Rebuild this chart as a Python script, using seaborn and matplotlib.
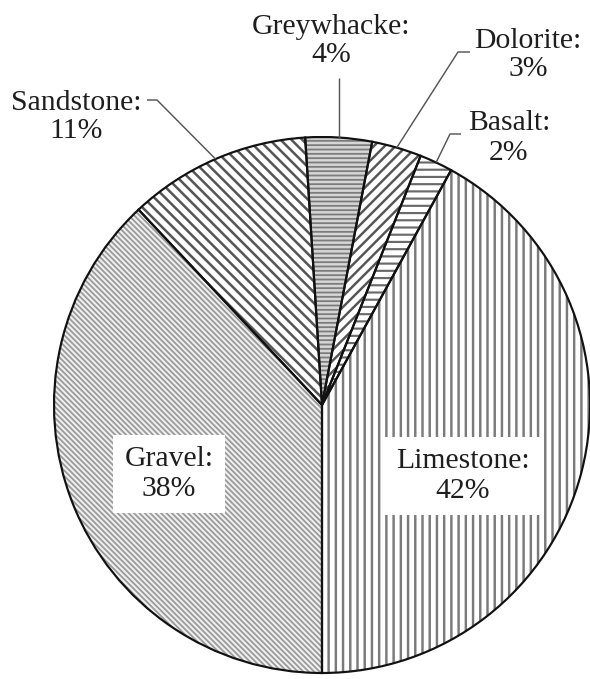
import matplotlib
matplotlib.use("Agg")
import matplotlib.pyplot as plt
import seaborn as sns
import numpy as np

# Rock types used as aggregate, share of total (%)
rock_types = ["Limestone", "Basalt", "Dolorite", "Greywhacke", "Sandstone", "Gravel"]
shares = [42, 2, 3, 4, 11, 38]

# Fill style per rock type: hatch pattern, hatch colour, face colour, hatch width (pt)
hatches = ["|||", "---", "////", "-----", "\\\\\\\\", "\\" * 8]
hatch_colors = ["#7a7a7a", "#6a6a6a", "#555555", "#7c7c7c", "#555555", "#9a9a9a"]
face_colors = ["white", "white", "white", "#d6d6d6", "white", "#f0f0f0"]
hatch_widths = [1.35, 1.2, 1.35, 1.0, 1.4, 1.0]

sns.set_theme(style="white")
plt.rcParams["font.family"] = ["Liberation Serif", "DejaVu Serif"]

W, H, DPI = 590, 679, 130
fig = plt.figure(figsize=(W / DPI, H / DPI), dpi=DPI)
ax = fig.add_axes([0, 0, 1, 1])
ax.set_xlim(0, W)
ax.set_ylim(0, H)
ax.set_aspect("equal")
ax.axis("off")


def py(y):
    """Convert a top-down pixel row to the upward data axis."""
    return H - y


cx, cy, r = 322, py(405), 268

# Hatched fills
wedges, _ = ax.pie(shares, startangle=270, counterclock=True, radius=r,
                   center=(cx, cy), frame=True,
                   wedgeprops=dict(linewidth=0))
for w, h, hc, fc, hw in zip(wedges, hatches, hatch_colors, face_colors, hatch_widths):
    w.set_facecolor(fc)
    w.set_edgecolor(hc)
    w.set_hatch(h)
    if hasattr(w, "set_hatch_linewidth"):
        w.set_hatch_linewidth(hw)

# Black wedge outlines on top
outline, _ = ax.pie(shares, startangle=270, counterclock=True, radius=r,
                    center=(cx, cy), frame=True,
                    wedgeprops=dict(facecolor="none", edgecolor="#111111",
                                    linewidth=1.2))
ax.set_xlim(0, W)
ax.set_ylim(0, H)
ax.axis("off")


def arc_point(wedge):
    mid = np.deg2rad((wedge.theta1 + wedge.theta2) / 2)
    return cx + r * np.cos(mid), cy + r * np.sin(mid)


fs = 16.5
txt_kw = dict(ha="center", va="center", fontsize=fs, color="#1e1e1e",
              linespacing=1.15)

# Labels inside the two large wedges, on white boxes
inside = {"Limestone": (463, 476), "Gravel": (169, 474)}
# Labels outside with leader lines (pixel positions of text and elbows)
outside = {
    "Greywhacke": ((331, 41), [(None, 78)]),
    "Dolorite": ((528, 55), [(470, 52), (458, 52)]),
    "Basalt": ((509, 138), [(461, 134), (450, 134)]),
    "Sandstone": ((76, 117), [(147, 100), (157, 100)]),
}

for name, val, w in zip(rock_types, shares, outline):
    label = f"{name}:\n{val}%"
    if name in inside:
        x, y = inside[name]
        ax.text(x, py(y), label, zorder=5,
                bbox=dict(boxstyle="square,pad=0.38", facecolor="white",
                          edgecolor="none"), **txt_kw)
    else:
        (x, y), elbows = outside[name]
        ax.text(x, py(y), label, zorder=5, **txt_kw)
        axp, ayp = arc_point(w)
        pts = []
        for ex, ey in elbows:
            pts.append((axp if ex is None else ex, py(ey)))
        pts.append((axp, ayp))
        xs, ys = zip(*pts)
        ax.plot(xs, ys, color="#555555", linewidth=0.8, zorder=4,
                solid_capstyle="butt")

fig.savefig("out.png", dpi=DPI, facecolor="white")
